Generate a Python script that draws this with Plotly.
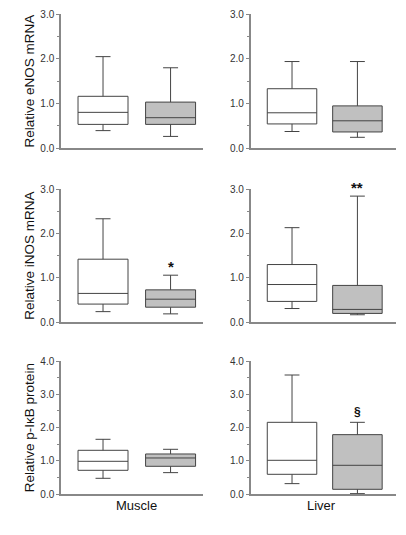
import plotly.graph_objects as go

# ---- data: [lower whisker, Q1, median, Q3, upper whisker] ----
groups = ["Control", "Treated"]
tissues = ["Muscle", "Liver"]
markers = ["Relative eNOS mRNA", "Relative iNOS mRNA", "Relative p-IκB protein"]

eNOS_muscle_ctrl = [0.39, 0.53, 0.80, 1.16, 2.05]
eNOS_muscle_trt = [0.26, 0.53, 0.68, 1.03, 1.80]
eNOS_liver_ctrl = [0.37, 0.54, 0.79, 1.33, 1.94]
eNOS_liver_trt = [0.24, 0.36, 0.61, 0.945, 1.94]
iNOS_muscle_ctrl = [0.24, 0.41, 0.65, 1.42, 2.33]
iNOS_muscle_trt = [0.19, 0.34, 0.52, 0.73, 1.06]
iNOS_liver_ctrl = [0.31, 0.47, 0.85, 1.30, 2.13]
iNOS_liver_trt = [0.17, 0.20, 0.29, 0.83, 2.84]
pIkB_muscle_ctrl = [0.48, 0.72, 0.99, 1.32, 1.65]
pIkB_muscle_trt = [0.65, 0.84, 1.09, 1.21, 1.35]
pIkB_liver_ctrl = [0.32, 0.60, 1.02, 2.16, 3.58]
pIkB_liver_trt = [0.02, 0.15, 0.87, 1.79, 2.16]

y_max = [3, 3, 4]
# significance marks on the treated group (None = no mark)
sig_marks = [[None, None], ["*", "**"], [None, "§"]]

panels = [
    [(eNOS_muscle_ctrl, eNOS_muscle_trt), (eNOS_liver_ctrl, eNOS_liver_trt)],
    [(iNOS_muscle_ctrl, iNOS_muscle_trt), (iNOS_liver_ctrl, iNOS_liver_trt)],
    [(pIkB_muscle_ctrl, pIkB_muscle_trt), (pIkB_liver_ctrl, pIkB_liver_trt)],
]

# ---- layout geometry ----
W, H = 406, 535
FONT = "Liberation Sans, Arial, sans-serif"
x_domains = [[61 / W, 203 / W], [250.7 / W, 396 / W]]
x_ranges = [[0.378, 2.48], [0.368, 2.59]]
box_widths = [0.74, 0.757]
row_px = [(14.3, 148.0), (189.0, 322.3), (361.0, 494.3)]
y_domains = [[1 - b / H, 1 - t / H] for (t, b) in row_px]
fills = ["white", "#c0c0c0"]

fig = go.Figure()
layout = dict(
    width=W, height=H, margin=dict(l=0, r=0, t=0, b=0, autoexpand=False),
    paper_bgcolor="white", plot_bgcolor="white", showlegend=False,
    font=dict(family=FONT, color="#222"),
)
annotations = []

k = 0
for r in range(3):
    for c in range(2):
        k += 1
        xa = "x" if k == 1 else f"x{k}"
        ya = "y" if k == 1 else f"y{k}"
        for g in range(2):
            s = panels[r][c][g]
            fig.add_trace(go.Box(
                x=[g + 1], lowerfence=[s[0]], q1=[s[1]], median=[s[2]],
                q3=[s[3]], upperfence=[s[4]], name=groups[g],
                width=box_widths[c], whiskerwidth=0.3,
                fillcolor=fills[g], line=dict(color="#444", width=1),
                boxpoints=False, hoverinfo="skip",
                xaxis=xa, yaxis=ya,
            ))
            mark = sig_marks[r][c] if g == 1 else None
            if mark:
                annotations.append(dict(
                    x=g + 1, y=s[4], xref=xa, yref=ya, text=f"<b>{mark}</b>",
                    showarrow=False, yshift=9 if "*" in mark else 10,
                    font=dict(size=15 if "*" in mark else 12, color="#111",
                              family=FONT),
                ))
        layout["xaxis" if k == 1 else f"xaxis{k}"] = dict(
            domain=x_domains[c], range=x_ranges[c], anchor=ya,
            showline=True, linecolor="#888", linewidth=1.5,
            showticklabels=False, ticks="", showgrid=False, zeroline=False,
        )
        yax = dict(
            domain=y_domains[r], range=[0, y_max[r]], anchor=xa,
            showline=True, linecolor="#888", linewidth=1.5,
            ticks="outside", ticklen=3, tickcolor="#888", tickwidth=1,
            dtick=1, tickformat=".1f", showgrid=False, zeroline=False,
            tickfont=dict(size=10, color="#333", family=FONT),
            minor=dict(dtick=0.5, ticks="outside", ticklen=2,
                       tickcolor="#888", showgrid=False),
        )
        if c == 0:
            yax["title"] = dict(text=markers[r], standoff=3,
                                font=dict(size=13.5, color="#111", family=FONT))
        layout["yaxis" if k == 1 else f"yaxis{k}"] = yax

# tissue labels
tissue_x_px = [136.7, 321.3]
for c in range(2):
    annotations.append(dict(
        x=tissue_x_px[c] / W, y=1 - 505 / H, xref="paper", yref="paper",
        xanchor="center", yanchor="middle",
        text=tissues[c], showarrow=False,
        font=dict(size=13, color="#111", family=FONT),
    ))

layout["annotations"] = annotations
fig.update_layout(**layout)
fig.write_html("out.html", config={"displayModeBar": False},
               post_script="document.body.style.margin='0';")
